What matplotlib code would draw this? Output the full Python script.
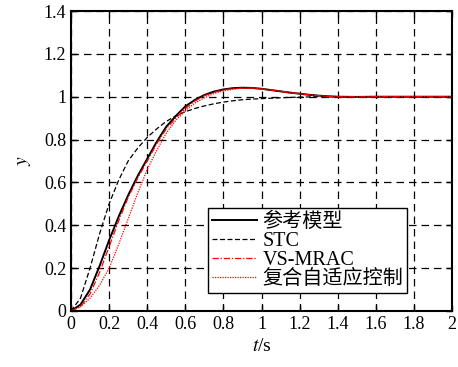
import matplotlib.pyplot as plt

plt.rcParams['font.family'] = ['Liberation Serif', 'Noto Sans CJK SC']
plt.rcParams['mathtext.fontset'] = 'stix'

# %% data
t = [0, 0.05, 0.1, 0.15, 0.2, 0.25, 0.3, 0.35, 0.4, 0.45, 0.5, 0.55, 0.6, 0.65,
     0.7, 0.75, 0.8, 0.85, 0.9, 0.95, 1.0, 1.05, 1.1, 1.15, 1.2, 1.25, 1.3, 1.35,
     1.4, 1.5, 1.6, 1.7, 1.8, 1.9, 2.0]
y_ref = [0, 0.03, 0.10, 0.21, 0.33, 0.44, 0.54, 0.63, 0.71, 0.79, 0.86, 0.91, 0.955, 0.985,
         1.008, 1.024, 1.034, 1.040, 1.042, 1.041, 1.037, 1.031, 1.025, 1.019, 1.014, 1.009, 1.005, 1.002,
         1.0, 0.999, 1.0, 1.0, 1.0, 1.0, 1.0]
y_stc = [0, 0.06, 0.20, 0.36, 0.50, 0.61, 0.70, 0.76, 0.81, 0.85, 0.885, 0.91, 0.93, 0.945,
         0.957, 0.967, 0.975, 0.981, 0.986, 0.989, 0.991, 0.993, 0.995, 0.997, 0.998, 0.999, 1.0, 1.0,
         1.0, 1.0, 1.0, 1.0, 1.0, 1.0, 1.0]
y_vs = [0, 0.02, 0.08, 0.18, 0.30, 0.42, 0.53, 0.62, 0.70, 0.78, 0.85, 0.90, 0.945, 0.98,
        1.005, 1.020, 1.032, 1.038, 1.040, 1.040, 1.036, 1.031, 1.025, 1.019, 1.014, 1.009, 1.005, 1.002,
        1.0, 0.999, 1.0, 1.0, 1.0, 1.0, 1.0]
y_comp = [0, 0.02, 0.06, 0.12, 0.20, 0.31, 0.43, 0.55, 0.66, 0.75, 0.83, 0.89, 0.935, 0.97,
          0.995, 1.015, 1.028, 1.035, 1.040, 1.040, 1.037, 1.032, 1.026, 1.020, 1.014, 1.009, 1.005, 1.002,
          1.0, 0.999, 1.0, 1.0, 1.0, 1.0, 1.0]
labels = ['参考模型', 'STC', 'VS-MRAC', '复合自适应控制']

# %% plot
fig = plt.figure(figsize=(4.58, 3.67), dpi=100)
ax = fig.add_axes([0.155, 0.1526, 0.832, 0.8174])

ax.plot(t, y_ref, color='black', lw=1.4, label=labels[0])
ax.plot(t, y_stc, color='black', lw=0.9, ls=(0, (4, 2)), label=labels[1])
ax.plot(t, y_vs, color='red', lw=0.9, ls=(0, (5, 1.5, 1, 1.5)), label=labels[2])
ax.plot(t, y_comp, color='red', lw=0.9, ls=(0, (1, 1)), label=labels[3])

ax.set_xlim(0, 2)
ax.set_ylim(0, 1.4)
ax.set_xticks([0, 0.2, 0.4, 0.6, 0.8, 1, 1.2, 1.4, 1.6, 1.8, 2])
ax.set_xticklabels(['0', '0.2', '0.4', '0.6', '0.8', '1', '1.2', '1.4', '1.6', '1.8', '2'])
ax.set_yticks([0, 0.2, 0.4, 0.6, 0.8, 1, 1.2, 1.4])
ax.set_yticklabels(['0', '0.2', '0.4', '0.6', '0.8', '1', '1.2', '1.4'])
ax.tick_params(direction='in', labelsize=13, length=4, width=1, top=True, right=True)
ax.grid(True, color='black', ls=(0, (6, 4)), lw=0.9)
for s in ax.spines.values():
    s.set_linewidth(1.5)

ax.set_xlabel('$t$/s', fontsize=14)
ax.set_ylabel('$y$', fontsize=14, labelpad=8)

leg = ax.legend(loc='lower left', bbox_to_anchor=(0.36, 0.06), fontsize=14.5,
                fancybox=False, edgecolor='black', framealpha=1,
                handlelength=2.2, labelspacing=0.0, borderpad=0.2,
                handletextpad=0.3, borderaxespad=0)
leg.get_frame().set_linewidth(1.0)

fig.savefig('out.png', dpi=100)
